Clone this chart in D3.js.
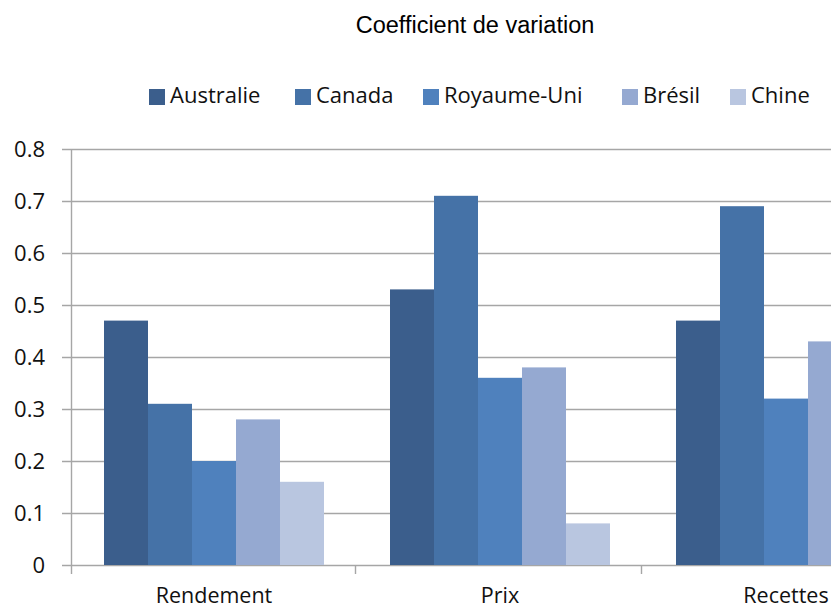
<!DOCTYPE html>
<html><head><meta charset="utf-8">
<script src="https://cdn.jsdelivr.net/npm/d3@7"></script>
<style>html,body{margin:0;padding:0;background:#fff;overflow:hidden}</style>
</head><body>
<svg id="chart" width="831" height="610"></svg>
<script>
const title = "Coefficient de variation";
const categories = ["Rendement", "Prix", "Recettes"];
const seriesNames = ["Australie", "Canada", "Royaume-Uni", "Brésil", "Chine"];
const australie = [0.47, 0.53, 0.47];
const canada = [0.31, 0.71, 0.69];
const royaumeUni = [0.20, 0.36, 0.32];
const bresil = [0.28, 0.38, 0.43];
const chine = [0.16, 0.08, 0.10];
const yTicks = [0, 0.1, 0.2, 0.3, 0.4, 0.5, 0.6, 0.7, 0.8];
const colors = ["#3B5E8C", "#4572A7", "#4F81BD", "#95A9D1", "#B9C6E0"];

const seriesValues = [australie, canada, royaumeUni, bresil, chine];
const svg = d3.select("#chart");
const sans = "'Open Sans', sans-serif";

const x0 = d3.scaleBand().domain(categories).range([71, 71 + 3 * 286]).padding(0);
const x1 = d3.scaleBand().domain(seriesNames).range([0, x0.bandwidth()]).paddingInner(0).paddingOuter(0.75);
const y = d3.scaleLinear().domain([0, 0.8]).range([565, 149]);
const color = d3.scaleOrdinal().domain(seriesNames).range(colors);

// gridlines
svg.append("g").selectAll("line").data(yTicks).join("line")
  .attr("x1", 62).attr("x2", 831)
  .attr("y1", d => Math.round(y(d)) + 0.5).attr("y2", d => Math.round(y(d)) + 0.5)
  .attr("stroke", "#A6A6A6").attr("stroke-width", 1.4);

// y axis
const yAxis = svg.append("g").attr("transform", "translate(71,0)")
  .call(d3.axisLeft(y).tickValues(yTicks).tickSize(0).tickPadding(26).tickFormat(d => d === 0 ? "0" : d3.format(".1f")(d)));
yAxis.select(".domain").remove();
yAxis.selectAll("text").attr("font-family", sans).attr("font-size", 22).attr("fill", "#111").attr("dy", "0.36em");
svg.append("line").attr("x1", 71.5).attr("x2", 71.5).attr("y1", y(0.8)).attr("y2", 574)
  .attr("stroke", "#A6A6A6").attr("stroke-width", 1.4);

// x axis ticks between categories
const bounds = categories.map(c => x0(c) + x0.bandwidth());
svg.append("g").selectAll("line").data(bounds).join("line")
  .attr("x1", d => Math.round(d) - 1.5).attr("x2", d => Math.round(d) - 1.5)
  .attr("y1", y(0)).attr("y2", 574)
  .attr("stroke", "#A6A6A6").attr("stroke-width", 1.4);

// bars
const groups = svg.append("g").selectAll("g").data(categories).join("g")
  .attr("transform", c => `translate(${x0(c)},0)`);
groups.selectAll("rect").data((c, i) => seriesNames.map((s, j) => ({s, v: seriesValues[j][i]})))
  .join("rect")
  .attr("x", d => x1(d.s)).attr("width", x1.bandwidth())
  .attr("y", d => y(d.v)).attr("height", d => y(0) - y(d.v))
  .attr("fill", d => color(d.s));

// category labels
svg.append("g").selectAll("text").data(categories).join("text")
  .attr("x", c => x0(c) + x0.bandwidth() / 2).attr("y", 603)
  .attr("text-anchor", "middle").attr("font-family", sans).attr("font-size", 21.5).attr("fill", "#111")
  .text(c => c);

// title
svg.append("text").attr("x", 475).attr("y", 33).attr("text-anchor", "middle")
  .attr("font-family", "'Liberation Sans', Arial, sans-serif").attr("font-size", 23.5).attr("fill", "#000")
  .text(title);

// legend
const legendX = [149, 295, 423, 622, 730];
const leg = svg.append("g").selectAll("g").data(seriesNames).join("g")
  .attr("transform", (s, i) => `translate(${legendX[i]},0)`);
leg.append("rect").attr("x", 0).attr("y", 89).attr("width", 16).attr("height", 16).attr("fill", s => color(s));
leg.append("text").attr("x", 21).attr("y", 103).attr("font-family", sans).attr("font-size", 22).attr("fill", "#111")
  .text(s => s);
</script>
</body></html>
